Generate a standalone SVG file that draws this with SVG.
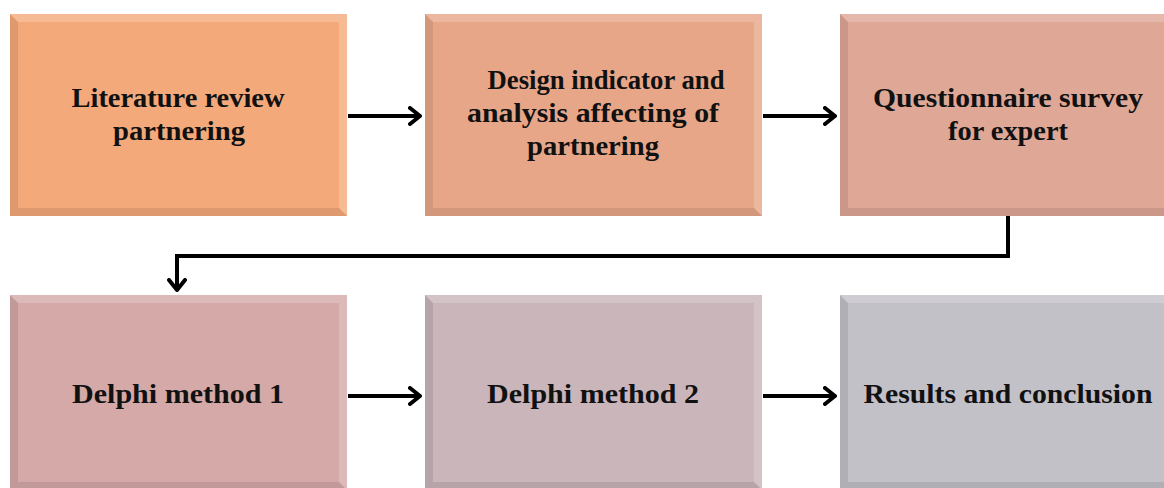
<svg xmlns="http://www.w3.org/2000/svg" width="1164" height="488" viewBox="0 0 1164 488">
  <style>
    .lbl { font-family: "Liberation Serif", "Times New Roman", serif; font-weight: bold; font-size: 28px; fill: #111; text-anchor: middle; }
    .conn { fill: none; stroke: #000; stroke-width: 4; }
    .hi { fill: #fff; opacity: 0.2; }
    .lo { fill: #000; opacity: 0.09; }
    .edge { fill: none; stroke: #fff; stroke-opacity: 0.5; stroke-width: 1; }
  </style>
  <defs>
    <marker id="chev" viewBox="0 0 14 20" refX="12" refY="10" markerWidth="14" markerHeight="20" markerUnits="userSpaceOnUse" orient="auto">
      <path d="M2,2 L12,10 L2,18" fill="none" stroke="#000" stroke-width="4" stroke-linecap="round" stroke-linejoin="round"/>
    </marker>
  </defs>

  <rect width="1164" height="488" fill="#fff"/>

  <!-- Row 1 -->
  <g id="literature-review">
    <rect x="10" y="14" width="337" height="202" fill="#F4A97A"/>
    <polygon class="hi" points="10,14 347,14 339,22 18,22"/>
    <polygon class="lo" points="10,14 18,22 18,208 10,216"/>
    <polygon class="hi" points="347,14 347,216 339,208 339,22"/>
    <polygon class="lo" points="10,216 18,208 339,208 347,216"/>
    <rect class="edge" x="9.5" y="13.5" width="338" height="203"/>
    <text class="lbl" x="178" y="107" textLength="213" lengthAdjust="spacingAndGlyphs">Literature review</text>
    <text class="lbl" x="179" y="140" textLength="132" lengthAdjust="spacingAndGlyphs">partnering</text>
  </g>

  <g id="design-indicator">
    <rect x="425" y="14" width="337" height="202" fill="#E8A688"/>
    <polygon class="hi" points="425,14 762,14 754,22 433,22"/>
    <polygon class="lo" points="425,14 433,22 433,208 425,216"/>
    <polygon class="hi" points="762,14 762,216 754,208 754,22"/>
    <polygon class="lo" points="425,216 433,208 754,208 762,216"/>
    <rect class="edge" x="424.5" y="13.5" width="338" height="203"/>
    <text class="lbl" x="606" y="89" textLength="237" lengthAdjust="spacingAndGlyphs">Design indicator and</text>
    <text class="lbl" x="593" y="122" textLength="252" lengthAdjust="spacingAndGlyphs">analysis affecting of</text>
    <text class="lbl" x="593" y="155" textLength="132" lengthAdjust="spacingAndGlyphs">partnering</text>
  </g>

  <g id="questionnaire">
    <rect x="840" y="14" width="337" height="202" fill="#DEA796"/>
    <polygon class="hi" points="840,14 1177,14 1169,22 848,22"/>
    <polygon class="lo" points="840,14 848,22 848,208 840,216"/>
    <polygon class="lo" points="840,216 848,208 1169,208 1177,216"/>
    <rect class="edge" x="839.5" y="13.5" width="338" height="203"/>
    <text class="lbl" x="1008" y="107" textLength="270" lengthAdjust="spacingAndGlyphs">Questionnaire survey</text>
    <text class="lbl" x="1008" y="140" textLength="120" lengthAdjust="spacingAndGlyphs">for expert</text>
  </g>

  <!-- Row 2 -->
  <g id="delphi-1">
    <rect x="10" y="295" width="337" height="195" fill="#D4A9A8"/>
    <polygon class="hi" points="10,295 347,295 339,303 18,303"/>
    <polygon class="lo" points="10,295 18,303 18,482 10,490"/>
    <polygon class="hi" points="347,295 347,490 339,482 339,303"/>
    <polygon class="lo" points="10,490 18,482 339,482 347,490"/>
    <rect class="edge" x="9.5" y="294.5" width="338" height="196"/>
    <text class="lbl" x="178" y="403" textLength="212" lengthAdjust="spacingAndGlyphs">Delphi method 1</text>
  </g>

  <g id="delphi-2">
    <rect x="425" y="295" width="337" height="195" fill="#C9B5BA"/>
    <polygon class="hi" points="425,295 762,295 754,303 433,303"/>
    <polygon class="lo" points="425,295 433,303 433,482 425,490"/>
    <polygon class="hi" points="762,295 762,490 754,482 754,303"/>
    <polygon class="lo" points="425,490 433,482 754,482 762,490"/>
    <rect class="edge" x="424.5" y="294.5" width="338" height="196"/>
    <text class="lbl" x="593" y="403" textLength="212" lengthAdjust="spacingAndGlyphs">Delphi method 2</text>
  </g>

  <g id="results">
    <rect x="840" y="295" width="337" height="195" fill="#C3C1C8"/>
    <polygon class="hi" points="840,295 1177,295 1169,303 848,303"/>
    <polygon class="lo" points="840,295 848,303 848,482 840,490"/>
    <polygon class="lo" points="840,490 848,482 1169,482 1177,490"/>
    <rect class="edge" x="839.5" y="294.5" width="338" height="196"/>
    <text class="lbl" x="1008" y="403" textLength="289" lengthAdjust="spacingAndGlyphs">Results and conclusion</text>
  </g>

  <!-- Connectors -->
  <g id="connectors">
    <line class="conn" x1="348" y1="116" x2="420" y2="116" marker-end="url(#chev)"/>
    <line class="conn" x1="763" y1="116" x2="835" y2="116" marker-end="url(#chev)"/>
    <polyline class="conn" points="1008,216 1008,256 177,256 177,290" marker-end="url(#chev)"/>
    <line class="conn" x1="348" y1="396" x2="420" y2="396" marker-end="url(#chev)"/>
    <line class="conn" x1="763" y1="396" x2="835" y2="396" marker-end="url(#chev)"/>
  </g>
</svg>
